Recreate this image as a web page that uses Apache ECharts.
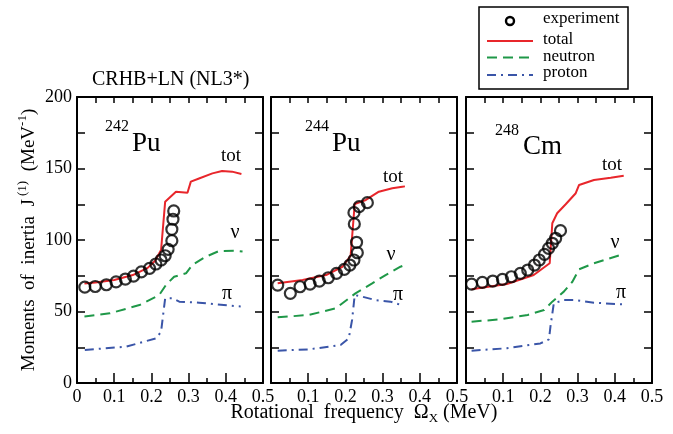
<!DOCTYPE html>
<html>
<head>
<meta charset="utf-8">
<script src="https://cdn.jsdelivr.net/npm/echarts@6/dist/echarts.min.js"></script>
<style>
html,body{margin:0;padding:0;background:#fff;}
#chart{width:673px;height:434px;}
</style>
</head>
<body>
<div id="chart"></div>
<script>
// values, [rotational frequency (MeV), J(1) (MeV^-1)]
var exp242 = [[0.021,67],[0.049,67.5],[0.079,68.7],[0.105,70.7],[0.13,72.7],[0.152,74.7],[0.173,77.7],[0.195,80.2],[0.212,83.2],[0.226,86],[0.237,89],[0.245,93.5],[0.255,99.5],[0.255,107.5],[0.258,114.5],[0.26,120.3]];
var tot242 = [[0.02,69.5],[0.05,70.3],[0.1,72],[0.15,75.5],[0.19,80.5],[0.21,85.5],[0.226,93],[0.237,126.8],[0.266,133.8],[0.297,133],[0.306,140.8],[0.328,143],[0.364,146.6],[0.39,148.3],[0.417,147.8],[0.442,146.2]];
var neu242 = [[0.02,46.5],[0.088,48.7],[0.168,54.5],[0.221,61.5],[0.239,68.5],[0.261,74.3],[0.293,76.7],[0.31,82.5],[0.346,88.3],[0.382,92.3],[0.426,92.5],[0.445,92]];
var pro242 = [[0.021,23.1],[0.132,25.4],[0.213,31.3],[0.226,35.9],[0.232,48.7],[0.237,59.2],[0.257,59.2],[0.275,56.9],[0.328,56.2],[0.422,53.8],[0.44,53.5]];

var exp244 = [[0.018,68.5],[0.052,62.7],[0.078,67.3],[0.105,69.2],[0.13,71.3],[0.154,73.6],[0.176,76.7],[0.197,79.5],[0.212,82.5],[0.223,86],[0.232,91.1],[0.23,98.4],[0.224,111.2],[0.223,119.1],[0.237,123.3],[0.259,126.1]];
var tot244 = [[0.018,69.7],[0.085,72],[0.148,75.5],[0.192,81.3],[0.214,89],[0.225,125.2],[0.255,128],[0.29,133.8],[0.326,136.2],[0.353,137.3],[0.36,137.5]];
var neu244 = [[0.018,45.9],[0.102,47.6],[0.174,52.2],[0.227,62.7],[0.272,69.7],[0.308,75.5],[0.348,81.3],[0.355,82]];
var pro244 = [[0.018,22.6],[0.102,23.5],[0.187,26.6],[0.209,31.2],[0.218,44.1],[0.225,61.5],[0.245,60.4],[0.28,58],[0.321,56.9],[0.35,54.5],[0.355,54.5]];

var exp248 = [[0.015,69.2],[0.044,70.4],[0.072,71.3],[0.098,72.5],[0.122,74.3],[0.146,76.7],[0.166,79],[0.184,82.5],[0.197,86],[0.211,90],[0.222,94.2],[0.232,97.7],[0.241,101.2],[0.254,106.5]];
var tot248 = [[0.015,65.5],[0.11,69.2],[0.182,75.5],[0.225,83.7],[0.232,111.7],[0.245,118.7],[0.268,125],[0.295,132.7],[0.304,138.5],[0.344,142],[0.389,143.6],[0.424,145]];
var neu248 = [[0.015,42.9],[0.092,44.5],[0.166,47.6],[0.21,51],[0.232,56.9],[0.263,63.9],[0.286,70.8],[0.304,79.5],[0.344,83.7],[0.424,90.2]];
var pro248 = [[0.015,22.6],[0.11,24.3],[0.2,27.7],[0.223,30.5],[0.227,39.4],[0.236,55.7],[0.263,58],[0.29,58],[0.344,56.2],[0.405,55.2],[0.42,55]];

var seriesNames = ['experiment','total','neutron','proton'];
var nuclei = [['242','Pu'],['244','Pu'],['248','Cm']];
var yTickLabels = [0,50,100,150,200];

var panels = [
  [exp242, tot242, neu242, pro242],
  [exp244, tot244, neu244, pro244],
  [exp248, tot248, neu248, pro248]
];
var gridLefts = [77, 271, 466];
var gridWidth = 186;

var serif = '"Liberation Serif", "DejaVu Serif", serif';
var RED = '#e8262b', GREEN = '#1f9848', BLUE = '#3a55a8';
var black = {color:'#000', width:2};
var NEU_DASH = [10,6], PRO_DASH = [9,5,2,5];

var grids = [], xAxes = [], yAxes = [], series = [];
panels.forEach(function(p, i){
  grids.push({left: gridLefts[i], top: 97, width: gridWidth, height: 286, outerBoundsMode: 'none'});
  // bottom axis with labels
  xAxes.push({
    gridIndex: i, type: 'value', min: 0, max: 0.5, interval: 0.1, position: 'bottom',
    axisLine: {show: true, onZero: false, lineStyle: black},
    axisTick: {inside: true, length: 10, lineStyle: {color:'#000', width:1.5}},
    minorTick: {show: true, splitNumber: 2, length: 5, lineStyle: {color:'#000', width:1.5}},
    splitLine: {show: false}, minorSplitLine: {show: false},
    axisLabel: {margin: 5, color:'#000', fontFamily: serif, fontSize: 18,
      formatter: function(v){ return (i > 0 && v === 0) ? '' : String(v); }}
  });
  // top frame
  xAxes.push({
    gridIndex: i, type: 'value', min: 0, max: 0.5, interval: 0.05, position: 'top',
    axisLine: {show: true, onZero: false, lineStyle: black},
    axisTick: {inside: true, length: 6, lineStyle: {color:'#000', width:1.5}},
    axisLabel: {show: false}, splitLine: {show: false}
  });
  yAxes.push({
    gridIndex: i, type: 'value', min: 0, max: 200, interval: 25, position: 'left',
    axisLine: {show: true, onZero: false, lineStyle: black},
    axisTick: {inside: true, length: 8, lineStyle: {color:'#000', width:1.5}},
    splitLine: {show: false},
    axisLabel: {show: i === 0, margin: 5, color:'#000', fontFamily: serif, fontSize: 18,
      formatter: function(v){ return yTickLabels.indexOf(v) >= 0 ? String(v) : ''; }}
  });
  yAxes.push({
    gridIndex: i, type: 'value', min: 0, max: 200, interval: 25, position: 'right',
    axisLine: {show: true, onZero: false, lineStyle: black},
    axisTick: {inside: true, length: 8, lineStyle: {color:'#000', width:1.5}},
    axisLabel: {show: false}, splitLine: {show: false}
  });

  var xi = 2*i, yi = 2*i;
  series.push({name:'total', type:'line', xAxisIndex: xi, yAxisIndex: yi, data: p[1],
    symbol: 'none', lineStyle:{color:RED, width:2}, z: 3});
  series.push({name:'neutron', type:'line', xAxisIndex: xi, yAxisIndex: yi, data: p[2],
    symbol: 'none', lineStyle:{color:GREEN, width:2, type:NEU_DASH}, z: 3});
  series.push({name:'proton', type:'line', xAxisIndex: xi, yAxisIndex: yi, data: p[3],
    symbol: 'none', lineStyle:{color:BLUE, width:2, type:PRO_DASH}, z: 3});
  series.push({name:'experiment', type:'scatter', xAxisIndex: xi, yAxisIndex: yi, data: p[0],
    symbol:'circle', symbolSize: 11,
    itemStyle:{color:'rgba(255,255,255,0)', borderColor:'#000', borderWidth:2.2}, z: 4});
});

// panel annotations
var graphics = [];
function txt(x, y, s, size, align){
  graphics.push({type:'text', x:x, y:y, style:{text:s, fill:'#000', font: size + 'px ' + serif,
    align: align || 'center', verticalAlign:'middle'}});
}
txt(231, 156, 'tot', 19); txt(235, 233, 'ν', 20); txt(227, 294, 'π', 20);
txt(393, 177, 'tot', 19); txt(391, 255, 'ν', 20); txt(398, 295, 'π', 20);
txt(612, 165, 'tot', 19); txt(615, 243, 'ν', 20); txt(621, 293, 'π', 20);

// mass number (small, raised) and element symbol
var massPos = [[105, 127], [305, 127], [495, 131]];
var elemPos = [[132, 144], [332, 144], [523, 147]];
nuclei.forEach(function(n, i){
  txt(massPos[i][0], massPos[i][1], n[0], 16, 'left');
  txt(elemPos[i][0], elemPos[i][1], n[1], 27, 'left');
});

txt(92, 80, 'CRHB+LN (NL3*)', 20, 'left');

graphics.push({type:'text', x: 29, y: 240, rotation: Math.PI/2, style:{
  text: '{m|Moments  of  inertia  J}{s| (1)}{m|  (MeV}{s|-1}{m|)}',
  align:'center', verticalAlign:'middle',
  rich: {
    m: {fontSize: 19, fontFamily: serif, fill:'#000', lineHeight: 26},
    s: {fontSize: 13, fontFamily: serif, fill:'#000', verticalAlign:'top'}
  }}});

graphics.push({type:'text', x: 364, y: 413, style:{
  text: '{m|Rotational  frequency  Ω}{s|X}{m| (MeV)}',
  align:'center', verticalAlign:'middle',
  rich: {
    m: {fontSize: 20, fontFamily: serif, fill:'#000', lineHeight: 24},
    s: {fontSize: 13, fontFamily: serif, fill:'#000', verticalAlign:'bottom'}
  }}});

// legend box (drawn by hand so the line keys carry no centre marker)
graphics.push({type:'rect', shape:{x:479, y:7, width:149, height:82},
  style:{fill:'#fff', stroke:'#000', lineWidth:1.5}, z: 10});
graphics.push({type:'circle', shape:{cx:510, cy:21, r:4},
  style:{fill:'none', stroke:'#000', lineWidth:2.4}, z: 11});
var keyY = [41, 57.5, 75];
var keyStyle = [
  {stroke:RED, lineWidth:2},
  {stroke:GREEN, lineWidth:2, lineDash:NEU_DASH},
  {stroke:BLUE, lineWidth:2, lineDash:PRO_DASH}
];
keyY.forEach(function(y, k){
  graphics.push({type:'line', shape:{x1:487, y1:y, x2:533, y2:y}, style:keyStyle[k], z: 11});
});
var labelY = [19, 40, 56.5, 73];
seriesNames.forEach(function(s, k){
  graphics.push({type:'text', x:543, y:labelY[k], z: 11, style:{text:s, fill:'#000',
    font:'17px ' + serif, align:'left', verticalAlign:'middle'}});
});

var chart = echarts.init(document.getElementById('chart'));
chart.setOption({
  animation: false,
  backgroundColor: '#fff',
  grid: grids,
  xAxis: xAxes,
  yAxis: yAxes,
  graphic: graphics,
  series: series
});
</script>
</body>
</html>
